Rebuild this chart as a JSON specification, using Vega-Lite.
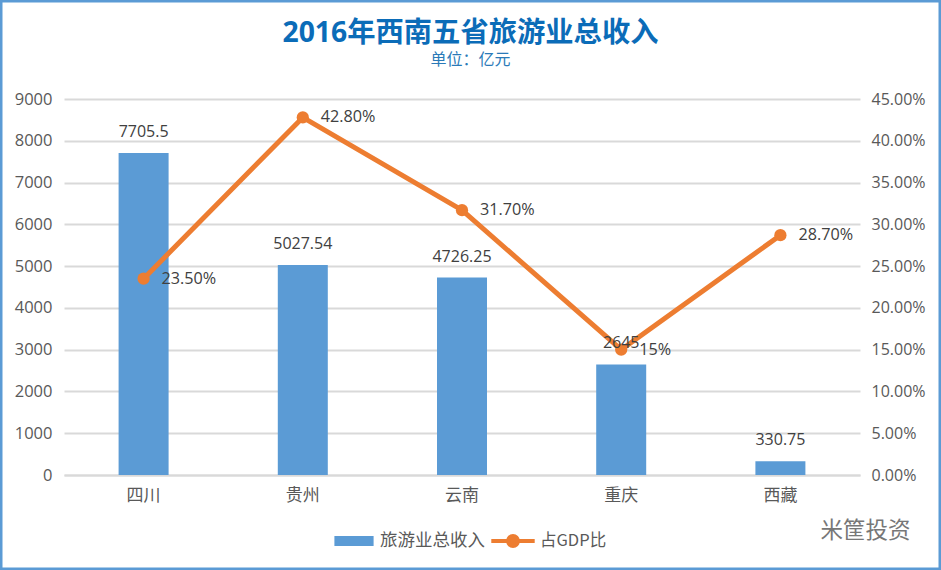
{"$schema":"https://vega.github.io/schema/vega-lite/v6.json","width":941,"height":570,"padding":0,"autosize":{"type":"none"},"background":"white","view":{"stroke":"#5b9bd5","strokeWidth":5,"fill":"white"},"config":{"font":"Open Sans, Noto Sans CJK SC"},"title":{"text":"2016年西南五省旅游业总收入","subtitle":"单位：亿元","anchor":"middle","frame":"group","offset":-69,"font":"Open Sans, Noto Sans CJK SC","fontSize":28.3,"fontWeight":"bold","color":"#0b6cb8","subtitleFont":"Noto Sans CJK SC","subtitleFontSize":16,"subtitleColor":"#2a7ab8","subtitlePadding":4},"data":{"values":[{"province":"四川","revenue":7705.5,"share":0.235,"shareLabel":"23.50%"},{"province":"贵州","revenue":5027.54,"share":0.428,"shareLabel":"42.80%"},{"province":"云南","revenue":4726.25,"share":0.317,"shareLabel":"31.70%"},{"province":"重庆","revenue":2645,"share":0.15,"shareLabel":"15%"},{"province":"西藏","revenue":330.75,"share":0.287,"shareLabel":"28.70%"}]},"encoding":{"x":{"field":"province","type":"nominal","sort":null,"scale":{"range":[64,860],"padding":0},"axis":{"orient":"bottom","offset":-95,"labelAngle":0,"labelFont":"Noto Sans CJK SC","labelFontSize":17,"labelColor":"#595959","labelPadding":12,"ticks":false,"domain":true,"domainColor":"#d9d9d9","domainWidth":2,"grid":false,"title":"米筐投资","titleFont":"Noto Sans CJK SC","titleFontSize":22.5,"titleFontWeight":"normal","titleColor":"#777777","titleX":865,"titleY":55,"titleAlign":"center","titleBaseline":"middle"}}},"layer":[{"mark":{"type":"bar","size":50},"encoding":{"y":{"field":"revenue","type":"quantitative","scale":{"domain":[0,9000],"range":[475,99],"nice":false},"axis":{"orient":"left","offset":-64,"values":[0,1000,2000,3000,4000,5000,6000,7000,8000,9000],"format":"d","title":null,"domain":false,"ticks":false,"grid":true,"gridColor":"#d9d9d9","gridWidth":2,"labelFontSize":16.5,"labelColor":"#595959","labelPadding":12}},"fill":{"datum":"旅游业总收入","scale":{"domain":["旅游业总收入"],"range":["#5b9bd5"]},"legend":{"orient":"none","legendX":340,"legendY":527,"title":null,"symbolType":"M-1.4,-0.36H1.4V0.36H-1.4Z","symbolSize":784,"symbolStrokeWidth":0,"labelFont":"Noto Sans CJK SC","labelFontSize":17.5,"labelColor":"#595959","labelOffset":12}}}},{"encoding":{"y":{"field":"share","type":"quantitative","scale":{"domain":[0,0.45],"range":[475,99],"nice":false},"axis":{"orient":"right","offset":-81,"values":[0,0.05,0.1,0.15,0.2,0.25,0.3,0.35,0.4,0.45],"format":".2%","title":null,"domain":false,"ticks":false,"grid":false,"labelFontSize":16,"labelColor":"#595959","labelPadding":11}}},"layer":[{"mark":{"type":"line","strokeWidth":5,"strokeCap":"round","strokeJoin":"round"},"encoding":{"stroke":{"datum":"占GDP比","scale":{"domain":["占GDP比"],"range":["#ed7d31"]},"legend":{"orient":"none","legendX":504,"legendY":532,"title":null,"symbolType":"M-3.1,0H-0.7A0.7,0.7 0 1 1 0.7,0A0.7,0.7 0 1 1 -0.7,0M0.7,0H3.1","symbolSize":196,"symbolStrokeWidth":4,"symbolFillColor":"#ed7d31","labelFont":"Noto Sans CJK SC","labelFontSize":16.5,"labelColor":"#595959","labelOffset":18}}}},{"mark":{"type":"point","filled":true,"size":150,"color":"#ed7d31","opacity":1}},{"mark":{"type":"text","align":"left","baseline":"middle","dx":18,"fontSize":16.2,"color":"#404040"},"encoding":{"text":{"field":"shareLabel","type":"nominal"}}}]},{"mark":{"type":"text","dy":-21,"fontSize":16,"color":"#404040"},"encoding":{"y":{"field":"revenue","type":"quantitative","scale":{"domain":[0,9000],"range":[475,99],"nice":false},"axis":null},"text":{"field":"revenue","type":"quantitative","format":"~f"}}}],"resolve":{"scale":{"y":"independent"}}}
